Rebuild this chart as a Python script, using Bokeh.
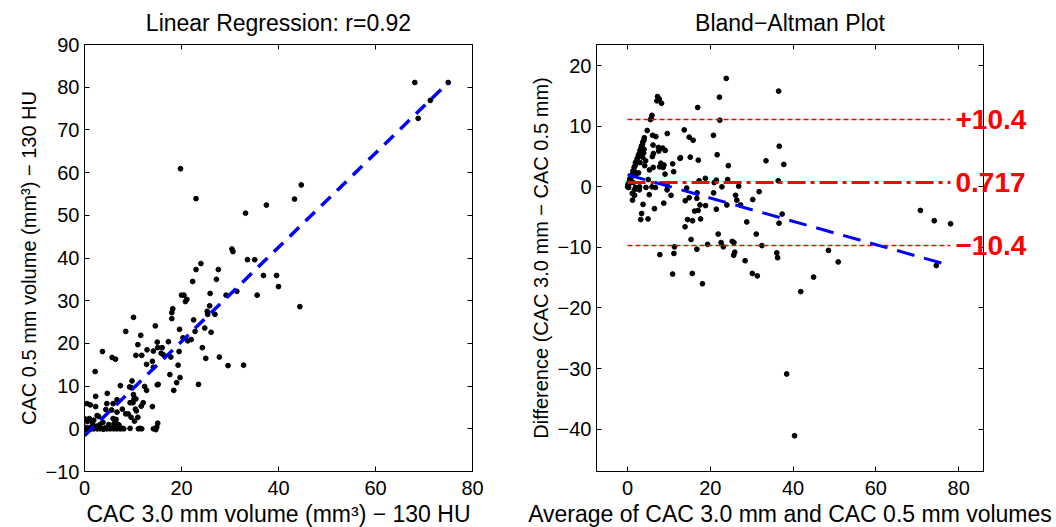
import numpy as np
from bokeh.plotting import figure
from bokeh.layouts import row
from bokeh.models import FixedTicker, LinearAxis, Range1d
from bokeh.embed import file_html
from bokeh.resources import INLINE

# ---- data: CAC volume at 3.0 mm (x) and 0.5 mm (y) slice thickness ----
vol_30 = [68.1, 75.0, 71.3, 68.8, 19.8, 23.0, 33.2, 37.5, 43.3, 44.7,
          30.4, 30.6, 33.6, 35.1, 24.0, 23.0, 27.6, 22.3, 27.2, 39.6,
          36.9, 40.0, 35.6, 31.4, 29.2, 25.9, 20.0, 20.5, 21.1, 20.8,
          44.4, 18.2, 18.0, 18.0, 25.8, 25.3, 25.4, 26.9, 10.1, 22.5,
          14.6, 19.6, 24.8, 22.8, 26.1, 8.5, 11.6, 20.3, 22.0, 21.3,
          11.0, 17.3, 15.0, 15.1, 16.0, 12.9, 14.2, 19.5, 24.3, 3.7,
          10.6, 11.8, 15.8, 16.3, 17.8, 25.0, 27.8, 5.7, 6.4, 14.0,
          12.8, 14.2, 19.3, 29.6, 32.8, 2.2, 17.6, 19.7, 9.8, 19.0,
          15.0, 15.2, 23.5, 7.4, 9.3, 9.7, 12.4, 12.8, 18.4, 2.3,
          4.7, 10.1, 6.7, 9.4, 10.0, 12.1, 4.6, 0.5, 1.2, 10.2,
          10.6, 5.9, 14.0, 2.3, 11.7, 4.4, 5.6, 7.8, 10.5, 10.7,
          2.6, 2.9, 9.0, 8.5, 6.7, 9.6, 11.0, 10.3, 0.1, 1.0,
          5.9, 6.5, 1.9, 1.4, 0.6, 15.1, 3.8, 5.0, 6.1, 6.7,
          7.1, 3.2, 2.5, 1.7,
          0.0, 0.2, 0.3, 0.5, 0.8, 1.0, 1.2, 1.5, 1.9, 2.2,
          2.6, 2.9, 3.2, 3.6, 3.9, 4.3, 4.6, 5.0, 5.3, 5.7,
          6.0, 6.4, 6.7, 7.1, 7.4, 7.8, 8.1, 9.4, 11.1, 11.4,
          11.8, 14.2, 14.7, 14.9]
vol_05 = [81.1, 81.1, 76.9, 72.7, 60.9, 53.9, 50.5, 52.4, 53.8, 57.1,
          42.1, 41.5, 39.6, 39.6, 38.7, 37.3, 37.3, 34.5, 35.0, 35.9,
          35.9, 33.3, 31.3, 32.2, 31.3, 31.7, 31.3, 31.3, 30.3, 29.8,
          28.6, 28.1, 27.2, 25.8, 28.8, 27.5, 26.8, 26.8, 26.1, 25.5,
          24.1, 23.3, 23.6, 22.8, 22.6, 22.8, 21.9, 21.3, 20.9, 20.6,
          19.7, 20.4, 20.3, 19.0, 19.0, 18.5, 18.2, 18.1, 19.0, 18.1,
          17.2, 17.2, 17.7, 17.3, 16.8, 16.5, 16.8, 16.7, 16.3, 15.8,
          15.1, 14.4, 14.9, 14.8, 14.9, 13.4, 12.7, 12.0, 11.2, 10.8,
          10.3, 10.4, 10.4, 10.1, 9.8, 9.6, 9.9, 9.0, 9.0, 7.6,
          8.3, 8.0, 6.8, 6.1, 6.1, 6.1, 5.9, 5.9, 5.6, 7.0,
          7.0, 5.9, 5.2, 5.2, 5.3, 4.5, 4.4, 4.6, 4.6, 4.2,
          3.1, 2.9, 3.5, 3.5, 3.9, 2.7, 2.7, 1.8, 2.3, 2.4,
          2.4, 2.2, 2.0, 1.9, 1.7, 1.3, 1.5, 1.0, 1.2, 1.1,
          0.9, 1.0, 0.6, 1.0,
          0.0, 0.3, -0.1, 0.1, 0.0, 0.2, -0.1, 0.1, 0.0, 0.2,
          0.0, 0.3, 0.0, 0.1, -0.1, 0.2, 0.0, 0.1, 0.0, 0.2,
          0.0, 0.1, 0.0, 0.1, 0.0, 0.1, 0.0, 0.1, 0.0, 0.1,
          0.0, 0.0, -0.2, 0.4]

# linear regression fit line (end points)
fit_x = [0.0, 75.0]
fit_y = [-1.6, 81.1]
r_text = "r=0.92"

# Bland-Altman statistics
ba_mean_diff = 0.717
ba_half_width = 10.4
ba_line_x = [0.0, 78.0]
ba_fit_x = [0.0, 78.0]
ba_fit_y = [2.0, -13.0]
ba_labels = ["+10.4", "0.717", "\u221210.4"]

left_xticks = [0, 20, 40, 60, 80]
left_yticks = [-10, 0, 10, 20, 30, 40, 50, 60, 70, 80, 90]
right_xticks = [0, 20, 40, 60, 80]
right_yticks = [-40, -30, -20, -10, 0, 10, 20]

FONT = "Liberation Sans"

x = np.array(vol_30)
y = np.array(vol_05)
ba_mean = (x + y) / 2.0
ba_diff = x - y


def minus_overrides(ticks):
    return {t: ("\u2212" + str(abs(t)) if t < 0 else str(t)) for t in ticks}


def style(p, xt, yt, title):
    p.outline_line_color = "black"
    p.outline_line_width = 1
    p.grid.visible = False
    p.background_fill_color = "white"
    p.border_fill_color = "white"
    for ax, ticks, lab_size, lab_off in ((p.xaxis[0], xt, "23px", 9),
                                         (p.yaxis[0], yt, "20px", 5)):
        ax.ticker = FixedTicker(ticks=ticks)
        ax.major_label_overrides = minus_overrides(ticks)
        ax.major_tick_in = 5
        ax.major_tick_out = 0
        ax.minor_tick_line_color = None
        ax.axis_line_color = "black"
        ax.major_tick_line_color = "black"
        ax.major_label_text_font = FONT
        ax.major_label_text_font_size = "20px"
        ax.major_label_text_color = "black"
        ax.major_label_standoff = lab_off
        ax.axis_label_text_font = FONT
        ax.axis_label_text_font_size = lab_size
        ax.axis_label_text_font_style = "normal"
        ax.axis_label_text_color = "black"
        ax.axis_label_standoff = 3
    # mirrored top axis (carries the panel title) and right axis
    top = LinearAxis(ticker=FixedTicker(ticks=xt),
                     major_label_overrides={t: "" for t in xt},
                     major_label_standoff=0,
                     major_tick_in=5, major_tick_out=0,
                     minor_tick_line_color=None,
                     axis_line_color="black",
                     axis_label=title,
                     axis_label_standoff=9,
                     axis_label_text_font=FONT,
                     axis_label_text_font_size="23px",
                     axis_label_text_font_style="normal",
                     axis_label_text_color="black")
    p.add_layout(top, "above")
    right = LinearAxis(ticker=FixedTicker(ticks=yt),
                       major_label_overrides={t: "" for t in yt},
                       major_label_standoff=0,
                       major_tick_in=5, major_tick_out=0,
                       minor_tick_line_color=None,
                       axis_line_color="black")
    p.add_layout(right, "right")


# ---- left: linear regression ----
p1 = figure(frame_width=388, frame_height=427,
            min_border_left=84, min_border_right=50,
            min_border_top=44, min_border_bottom=40,
            x_range=Range1d(0, 80), y_range=Range1d(-10, 90),
            output_backend="svg", toolbar_location=None)
p1.xaxis.axis_label = "CAC 3.0 mm volume (mm\u00b3) \u2212 130 HU"
p1.yaxis.axis_label = "CAC 0.5 mm volume (mm\u00b3) \u2212 130 HU"
p1.scatter(vol_30, vol_05, size=4.8, color="black", marker="circle")
p1.line(fit_x, fit_y, line_color="#0000ff", line_width=3.5, line_dash="13 9")
style(p1, left_xticks, left_yticks, "Linear Regression: " + r_text)

# ---- right: Bland-Altman ----
p2 = figure(frame_width=387, frame_height=427,
            min_border_left=74, min_border_right=70,
            min_border_top=44, min_border_bottom=40,
            x_range=Range1d(-7.5, 86), y_range=Range1d(-47, 23.5),
            output_backend="svg", toolbar_location=None)
p2.xaxis.axis_label = "Average of CAC 3.0 mm and CAC 0.5 mm volumes"
p2.yaxis.axis_label = "Difference (CAC 3.0 mm \u2212 CAC 0.5 mm)"
p2.scatter(ba_mean, ba_diff, size=4.8, color="black", marker="circle")
upper = round(ba_mean_diff + ba_half_width, 3)
lower = round(ba_mean_diff - ba_half_width, 3)
p2.line(ba_line_x, [upper, upper], line_color="red", line_width=1.3, line_dash="5 3")
p2.line(ba_line_x, [lower, lower], line_color="red", line_width=1.3, line_dash="5 3")
p2.line(ba_line_x, [ba_mean_diff, ba_mean_diff], line_color="red", line_width=3,
        line_dash="18 5 4 5")
p2.line(ba_fit_x, ba_fit_y, line_color="#0000ff", line_width=3, line_dash="18 10")
style(p2, right_xticks, right_yticks, "Bland\u2212Altman Plot")

# limits-of-agreement labels, drawn as a tick-less right axis
ba_ticks = [upper, ba_mean_diff, lower]
lab_axis = LinearAxis(ticker=FixedTicker(ticks=ba_ticks),
                      major_label_overrides=dict(zip(ba_ticks, ba_labels)),
                      major_label_standoff=-28,
                      major_tick_line_color=None, major_tick_in=0, major_tick_out=0,
                      minor_tick_line_color=None, axis_line_color=None,
                      major_label_text_color="red",
                      major_label_text_font=FONT,
                      major_label_text_font_size="28px",
                      major_label_text_font_style="bold")
p2.add_layout(lab_axis, "right")

layout = row(p1, p2)
open("out.html", "w").write(file_html(layout, INLINE))
